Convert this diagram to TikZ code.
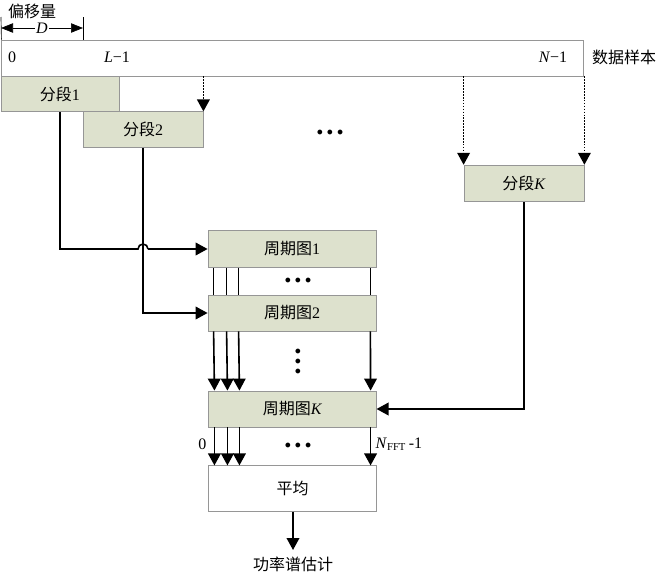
\documentclass[tikz,border=0pt]{standalone}
\usepackage{fontspec}
\setmainfont{Liberation Serif}
\newfontfamily\cjk{Noto Sans CJK SC}
\usepackage{tikz}
\usetikzlibrary{arrows.meta}
\usetikzlibrary{positioning}
\usetikzlibrary{calc}

\definecolor{segfill}{RGB}{221,225,205}
\definecolor{boxline}{RGB}{150,150,150}

\newcommand{\rowdots}{\small$\bullet$\hspace{3pt}$\bullet$\hspace{3pt}$\bullet$}

\tikzset{
  segbox/.style={draw=boxline, line width=0.6pt, fill=segfill, inner sep=0pt},
  plainbox/.style={draw=boxline, line width=0.6pt, fill=white, inner sep=0pt},
  arr/.style={line width=1.2pt, -{Triangle[length=9pt,width=9.5pt]}},
  link/.style={line width=1.2pt},
  dotarr/.style={line width=1.2pt, densely dotted, -{Triangle[length=9pt,width=9.5pt]}},
}

\begin{document}
\begin{tikzpicture}[x=0.75pt,y=0.75pt,yscale=-1,xscale=1,font=\large]

\useasboundingbox (0,0) rectangle (658,575);

% Data Bar
\node [plainbox, minimum width=436pt, minimum height=27pt] (bar) at (292.5,58) {};
\node (zero)  at (12,57)  {0};
\node (lend)  at (117,57) {\textit{L}−1};
\node (nend)  at (553,57) {\textit{N}−1};
\node (data)  at (624,57) {\cjk 数据样本};

% Offset
\coordinate (dl) at (1,28);
\coordinate (dr) at (83,28);
\draw [line width=0.5pt] (1,17) -- (bar.north west) ;
\draw [line width=0.5pt] (83,17) -- (83,40) ;
\draw [line width=0.5pt, {Triangle[length=9pt,width=7pt]}-{Triangle[length=9pt,width=7pt]}] (dl) -- (dr) ;
\node [fill=white, inner sep=1pt] (doff) at (42,28) {\textit{D}};
\node (offset) at (32,11) {\cjk 偏移量};

% Segments
\node [segbox, minimum width=88.5pt, minimum height=26.5pt] (seg1) at (60,94)    {{\cjk 分段}1};
\node [segbox, minimum width=90pt,   minimum height=26.5pt] (seg2) at (143,129.5) {{\cjk 分段}2};
\node [segbox, minimum width=90pt,   minimum height=27.5pt] (segK) at (524,183.5) {{\cjk 分段}\textit{K}};
\node (segdots) at (330,133) {\rowdots};

% Dotted Arrows
\draw [dotarr] (bar.south -| seg2.north east) -- (seg2.north east) ;
\draw [dotarr] (bar.south -| segK.north west) -- (segK.north west) ;
\draw [dotarr] (bar.south -| segK.north east) -- (segK.north east) ;

% Periodograms
\node [segbox, minimum width=126pt,   minimum height=27.5pt] (p1)  at (292,249)   {{\cjk 周期图}1};
\node [segbox, minimum width=126pt,   minimum height=27pt]   (p2)  at (292,313)   {{\cjk 周期图}2};
\node [segbox, minimum width=125.5pt, minimum height=27pt]   (pK)  at (292.5,409) {{\cjk 周期图}\textit{K}};
\node [plainbox, minimum width=125.5pt, minimum height=34pt] (avg) at (292.5,488.5) {\cjk 平均};

\node (pdots1) at (298,281) {\rowdots};
\node (pdots3) at (298,446) {\rowdots};
\foreach \y in {352,362,372}
  \node [inner sep=0pt] at (298,\y) {\small$\bullet$};

% Segment to Periodogram
\coordinate (hop) at (seg2.south |- p1.west);
\draw [link] (seg1.south) |- ($(hop)+(-5,0)$) arc [start angle=180, end angle=360, radius=5] ;
\draw [arr] ($(hop)+(5,0)$) -- (p1.west) ;
\draw [arr] (seg2.south) |- (p2.west) ;
\draw [arr] (segK.south) |- (pK.east) ;

% Bins
\foreach \dx in {6,19,31} {
  \draw [link] ($(p1.south west)+(\dx,0)$) -- ($(p2.north west)+(\dx,0)$) ;
  \draw [arr]  ($(p2.south west)+(\dx,0)$) -- ($(pK.north west)+(\dx,0)$) ;
  \draw [arr]  ($(pK.south west)+(\dx,0)$) -- ($(avg.north west)+(\dx,0)$) ;
}
\draw [link] ($(p1.south east)+(-6,0)$) -- ($(p2.north east)+(-6,0)$) ;
\draw [arr]  ($(p2.south east)+(-6,0)$) -- ($(pK.north east)+(-6,0)$) ;
\draw [arr]  ($(pK.south east)+(-6,0)$) -- ($(avg.north east)+(-6,0)$) ;

\node [anchor=east] (bin0) at (211,444) {0};
\node [anchor=west] (binN) at (371,444) {\textit{N}\textsubscript{FFT}\,-1};

% Output
\coordinate (out) at (293,550);
\draw [arr] (avg.south -| out) -- (out) ;
\node (psd) at (293,564) {\cjk 功率谱估计};

\end{tikzpicture}
\end{document}
